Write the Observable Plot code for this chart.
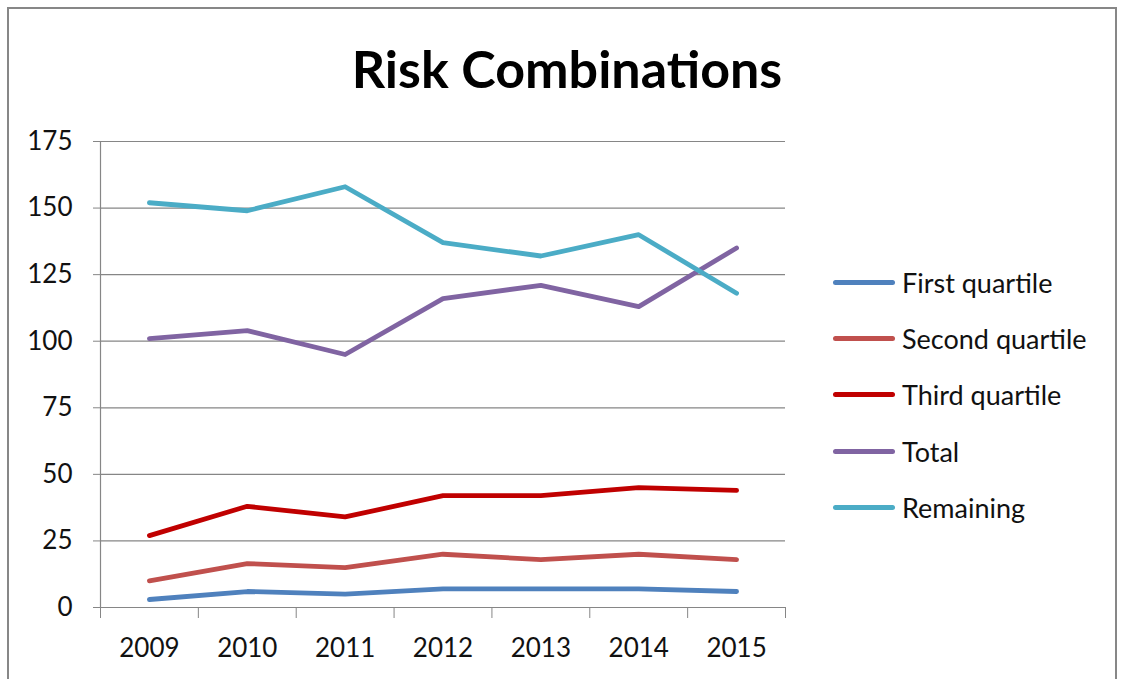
<!DOCTYPE html>
<html>
<head>
<meta charset="utf-8">
<script src="https://cdn.jsdelivr.net/npm/d3@7"></script>
<script src="https://cdn.jsdelivr.net/npm/@observablehq/plot@0.6"></script>
<style>
  html, body { margin: 0; padding: 0; background: #fff; }
  #wrap { position: relative; width: 1123px; height: 679px; overflow: hidden; font-family: Lato, "Open Sans", sans-serif; }
  #frame { position: absolute; left: 7px; top: 7px; width: 1110px; height: 720px; border: 2px solid #878787; box-sizing: border-box; }
  #title { position: absolute; left: 0; width: 1134px; top: 36px; text-align: center; font-weight: 700; font-size: 52px; color: #000; line-height: 64px; }
  #chart { position: absolute; left: 0; top: 0; }
  #legend { position: absolute; left: 833px; top: 254px; }
  .row { display: flex; align-items: center; height: 56.3px; font-size: 27px; color: #111; }
  .row .sw { width: 62px; height: 5px; border-radius: 3px; margin-right: 7px; }
</style>
</head>
<body>
<div id="wrap">
  <div id="frame"></div>
  <div id="title">Risk Combinations</div>
  <div id="chart"></div>
  <div id="legend"></div>
</div>
<script>
const years = [2009, 2010, 2011, 2012, 2013, 2014, 2015];
const seriesNames = ["First quartile", "Second quartile", "Third quartile", "Total", "Remaining"];
const firstQuartile = [3, 6, 5, 7, 7, 7, 6];
const secondQuartile = [10, 16.5, 15, 20, 18, 20, 18];
const thirdQuartile = [27, 38, 34, 42, 42, 45, 44];
const total = [101, 104, 95, 116, 121, 113, 135];
const remaining = [152, 149, 158, 137, 132, 140, 118];
const yTicks = [0, 25, 50, 75, 100, 125, 150, 175];
const colors = ["#4F81BD", "#C0504D", "#C00000", "#8064A2", "#4BACC6"];

const valuesBySeries = [firstQuartile, secondQuartile, thirdQuartile, total, remaining];
const data = [];
seriesNames.forEach((name, i) => {
  years.forEach((yr, j) => data.push({series: name, year: yr, value: valuesBySeries[i][j]}));
});
const boundaries = [years[0] - 0.5, ...years.map(y => y + 0.5)];

const chart = Plot.plot({
  width: 1123,
  height: 679,
  marginLeft: 100,
  marginRight: 338,
  marginTop: 141,
  marginBottom: 72,
  style: {fontFamily: "Lato, 'Open Sans', sans-serif", fontSize: "26px", background: "transparent", color: "#000"},
  x: {type: "linear", domain: [years[0] - 0.5, years[years.length - 1] + 0.5]},
  y: {domain: [0, 175]},
  color: {domain: seriesNames, range: colors},
  marks: [
    Plot.gridY(yTicks, {stroke: "#868686", strokeOpacity: 1, strokeWidth: 1.2}),
    Plot.ruleX([years[0] - 0.5], {y1: 0, y2: 175, stroke: "#868686", strokeWidth: 1.2}),
    Plot.axisY(yTicks, {tickSize: 7, tickPadding: 21, stroke: "#868686", fill: "#111", fontSize: 26, label: null}),
    Plot.axisX(years, {tickSize: 0, tickPadding: 31, tickFormat: d => String(d), fill: "#111", fontSize: 26, label: null}),
    Plot.axisX(boundaries, {tickSize: 11, tickFormat: () => "", stroke: "#868686", label: null}),
    Plot.line(data, {x: "year", y: "value", z: "series", stroke: "series", strokeWidth: 4.8, strokeLinecap: "round", strokeLinejoin: "round"})
  ]
});
document.getElementById("chart").appendChild(chart);

const legend = document.getElementById("legend");
seriesNames.forEach((name, i) => {
  const row = document.createElement("div");
  row.className = "row";
  const sw = document.createElement("div");
  sw.className = "sw";
  sw.style.background = colors[i];
  const label = document.createElement("span");
  label.textContent = name;
  row.appendChild(sw);
  row.appendChild(label);
  legend.appendChild(row);
});
</script>
</body>
</html>
